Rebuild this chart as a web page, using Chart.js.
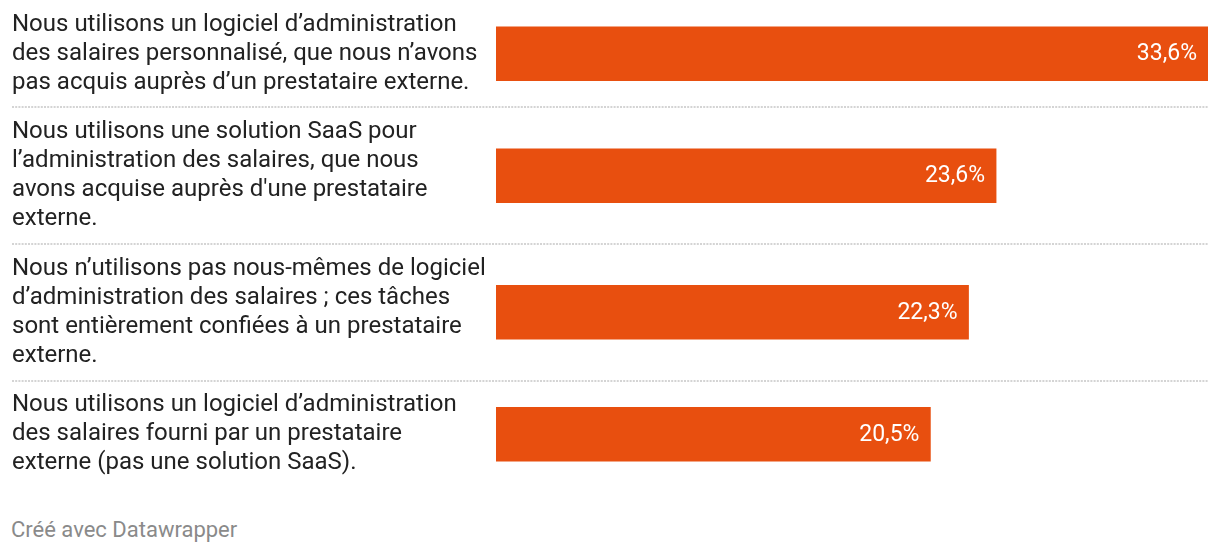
<!DOCTYPE html>
<html lang="fr">
<head>
<meta charset="utf-8">
<script src="https://cdn.jsdelivr.net/npm/chart.js@4"></script>
<style>
	html, body { margin: 0; padding: 0; background: #ffffff; }
	body { width: 1220px; height: 556px; position: relative; overflow: hidden; font-family: Roboto, 'Noto Sans', sans-serif; }
	#wrap { position: absolute; left: 0; top: 0; width: 1220px; height: 488px; }
	#footer { position: absolute; left: 11px; top: 515px; font-size: 22px; line-height: 30px; color: #8a8a8a; }
</style>
</head>
<body>
<div id="wrap"><canvas id="chart"></canvas></div>
<div id="footer">Créé avec Datawrapper</div>
<script>
	'use strict';

	// Category labels, already split into the lines shown in the picture
	const categoryLines = [
		['Nous utilisons un logiciel d\u2019administration', 'des salaires personnalisé, que nous n\u2019avons', 'pas acquis auprès d\u2019un prestataire externe.'],
		['Nous utilisons une solution SaaS pour', 'l\u2019administration des salaires, que nous', 'avons acquise auprès d\'une prestataire', 'externe.'],
		['Nous n\u2019utilisons pas nous-mêmes de logiciel', 'd\u2019administration des salaires ; ces tâches', 'sont entièrement confiées à un prestataire', 'externe.'],
		['Nous utilisons un logiciel d\u2019administration', 'des salaires fourni par un prestataire', 'externe (pas une solution SaaS).']
	];

	// Share of respondents (%)
	const shares = [33.6, 23.6, 22.3, 20.5];

	const BAR_COLOR = '#e84f0f';
	const LINE_H = 29;
	const ROW_PAD = 0.7; // extra row space, in line units

	// Row centres on a linear scale measured in "text lines"
	let total = 0;
	const rowEnds = [];
	const rowCenters = categoryLines.map(function(lines) {
		const h = lines.length + ROW_PAD;
		const c = total + h / 2;
		total += h;
		rowEnds.push(total);
		return c;
	});

	function fmt(v) {
		return v.toFixed(1).replace('.', ',') + '%';
	}

	const labelsPlugin = {
		id: 'rowLabels',
		afterDatasetsDraw: function(chart) {
			const ctx = chart.ctx;
			const y = chart.scales.y;
			const x = chart.scales.x;
			ctx.save();

			// dotted separators between rows
			ctx.strokeStyle = '#d4d4d4';
			ctx.lineWidth = 2;
			ctx.setLineDash([2, 1.2]);
			rowEnds.slice(0, -1).forEach(function(v) {
				const py = Math.round(y.getPixelForValue(v));
				ctx.beginPath();
				ctx.moveTo(12, py);
				ctx.lineTo(1208, py);
				ctx.stroke();
			});
			ctx.setLineDash([]);

			// category text
			ctx.fillStyle = '#222222';
			ctx.font = '24px Roboto';
			ctx.textAlign = 'left';
			ctx.textBaseline = 'middle';
			categoryLines.forEach(function(lines, i) {
				const cy = y.getPixelForValue(rowCenters[i]);
				lines.forEach(function(line, j) {
					ctx.fillText(line, 12, cy + (j - (lines.length - 1) / 2) * LINE_H);
				});
			});

			// values inside bars
			ctx.fillStyle = '#ffffff';
			ctx.font = '23px Roboto';
			ctx.textAlign = 'right';
			shares.forEach(function(v, i) {
				ctx.fillText(fmt(v), x.getPixelForValue(v) - 11, y.getPixelForValue(rowCenters[i]) + 1);
			});
			ctx.restore();
		}
	};

	new Chart(document.getElementById('chart').getContext('2d'), {
		type: 'bar',
		data: {
			datasets: [{
				data: shares.map(function(v, i) { return { x: v, y: rowCenters[i] }; }),
				backgroundColor: BAR_COLOR,
				borderWidth: 0,
				barThickness: 54
			}]
		},
		options: {
			indexAxis: 'y',
			responsive: true,
			maintainAspectRatio: false,
			animation: false,
			layout: { padding: { left: 496, right: 12, top: 0, bottom: 0 } },
			plugins: {
				legend: { display: false },
				tooltip: { enabled: false }
			},
			scales: {
				x: { type: 'linear', min: 0, max: Math.max.apply(null, shares), display: false },
				y: { type: 'linear', min: 0, max: total, reverse: true, offset: false, display: false }
			}
		},
		plugins: [labelsPlugin]
	});
</script>
</body>
</html>
